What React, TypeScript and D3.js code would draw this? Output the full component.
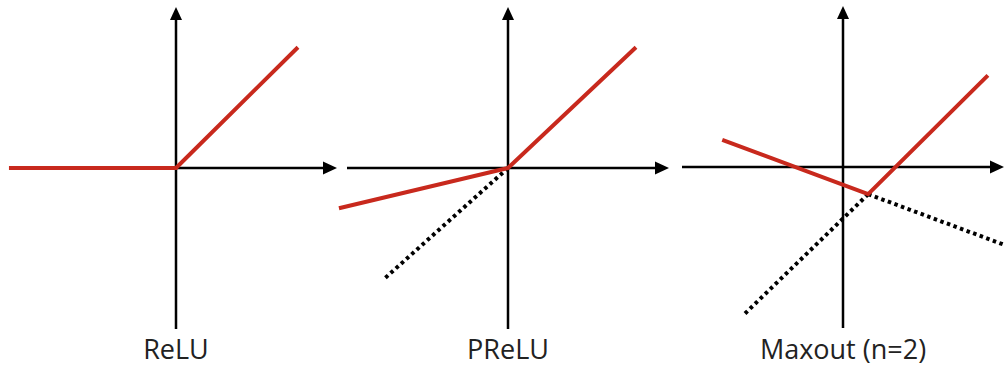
import React from "react";
import * as d3 from "d3";

const width = 1004;
const height = 368;

// panel titles and where each panel's origin sits
const titles = ["ReLU", "PReLU", "Maxout (n=2)"];
const originX = [176, 508, 843];
const originY = [168, 168, 167];

// red (active) curves, in axis units
const reluRed = [
  [-4.15, 0],
  [0, 0],
  [3.03, 3.0],
];
const preluRed = [
  [-4.2, -1.0],
  [0, 0],
  [3.18, 3.0],
];
const preluDotted = [
  [0, 0],
  [-3.05, -2.73],
];
const maxoutRed = [
  [-3.0, 0.675],
  [0.625, -0.675],
  [3.6, 2.275],
];
const maxoutDotted1 = [
  [0.625, -0.675],
  [-2.475, -3.68],
];
const maxoutDotted2 = [
  [0.625, -0.675],
  [4.05, -1.95],
];

const redLines = [[reluRed], [preluRed], [maxoutRed]];
const dottedLines = [[], [preluDotted], [maxoutDotted1, maxoutDotted2]];

const red = "#c8291d";

const Panel = ({ i }: { i: number }) => {
  const x = d3.scaleLinear().domain([-4, 4]).range([originX[i] - 161, originX[i] + 161]);
  const y = d3.scaleLinear().domain([-4, 4]).range([originY[i] + 161, originY[i] - 161]);
  const line = d3
    .line<number[]>()
    .x((d) => x(d[0]))
    .y((d) => y(d[1]));

  const x0 = x(0);
  const y0 = y(0);
  const tipX = x(4);
  const tipY = y(4);

  return (
    <g>
      {/* axes */}
      <line x1={x(-4)} y1={y0} x2={tipX - 10} y2={y0} stroke="#000" strokeWidth={2.5} />
      <line x1={x0} y1={y(-4)} x2={x0} y2={tipY + 10} stroke="#000" strokeWidth={2.5} />
      <path d={`M${tipX},${y0} L${tipX - 14},${y0 - 6.5} L${tipX - 14},${y0 + 6.5} Z`} fill="#000" />
      <path d={`M${x0},${tipY} L${x0 - 6},${tipY + 13} L${x0 + 6},${tipY + 13} Z`} fill="#000" />

      {dottedLines[i].map((pts, k) => (
        <path
          key={"d" + k}
          d={line(pts) || ""}
          fill="none"
          stroke="#000"
          strokeWidth={4}
          strokeDasharray="3.5 3.5"
        />
      ))}
      {redLines[i].map((pts, k) => (
        <path
          key={"r" + k}
          d={line(pts) || ""}
          fill="none"
          stroke={red}
          strokeWidth={4}
          strokeLinejoin="round"
        />
      ))}

      <text
        x={x0}
        y={359}
        textAnchor="middle"
        fontFamily="'Open Sans', sans-serif"
        fontSize={27}
        fill="#222"
      >
        {titles[i]}
      </text>
    </g>
  );
};

export default function App() {
  return (
    <svg
      width={width}
      height={height}
      style={{ position: "absolute", left: 0, top: 0, background: "#fff" }}
    >
      {titles.map((t, i) => (
        <Panel key={t} i={i} />
      ))}
    </svg>
  );
}
